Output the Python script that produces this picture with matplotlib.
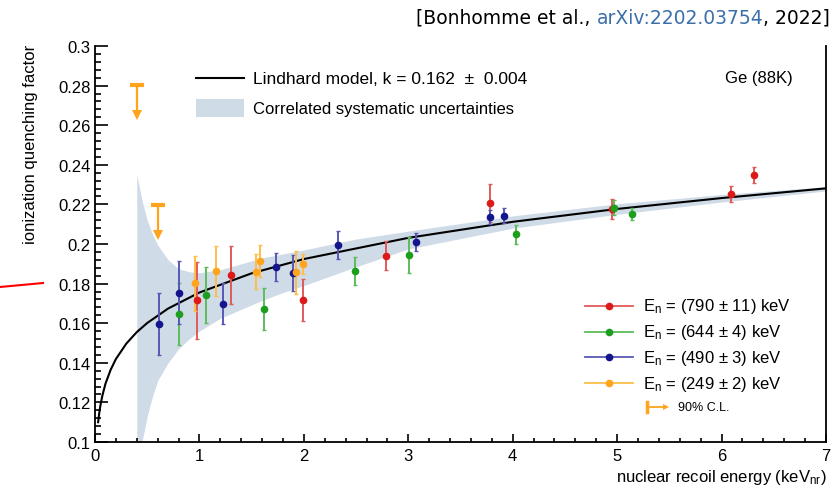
import numpy as np
import matplotlib.pyplot as plt
from matplotlib.ticker import MultipleLocator, FuncFormatter
from matplotlib.patches import Rectangle
from matplotlib.lines import Line2D

plt.rcParams['font.family'] = ['Liberation Sans', 'DejaVu Sans']
plt.rcParams['mathtext.fontset'] = 'custom'
plt.rcParams['mathtext.rm'] = 'Liberation Sans'
plt.rcParams['mathtext.it'] = 'Liberation Sans:italic'

# Lindhard model, k = 0.162
model_e = [0.03, 0.04, 0.05, 0.07, 0.1, 0.15, 0.2, 0.3, 0.4, 0.5, 0.7, 1.0, 1.5, 2.0, 3.0, 4.0, 5.0, 6.0, 7.0]
model_q = [0.1100, 0.1144, 0.1179, 0.1233, 0.1294, 0.1365, 0.1419, 0.1497, 0.1555, 0.1601, 0.1674,
           0.1755, 0.1852, 0.1924, 0.2031, 0.2112, 0.2177, 0.2232, 0.2281]

# correlated systematic band
band_e = [0.4, 0.45, 0.5, 0.55, 0.6, 0.7, 0.8, 0.9, 1.0, 1.2, 1.4, 1.6, 1.8, 2.0, 2.5, 3.0, 4.0, 5.0, 6.0, 7.0]
band_hi = [0.235, 0.222, 0.212, 0.205, 0.1995, 0.192, 0.1875, 0.186, 0.1855, 0.187, 0.190, 0.193, 0.195,
           0.197, 0.2025, 0.2065, 0.2142, 0.2203, 0.2250, 0.2290]
band_lo = [0.07, 0.10, 0.113, 0.123, 0.131, 0.140, 0.147, 0.152, 0.156, 0.1625, 0.167, 0.1715, 0.1755,
           0.179, 0.1885, 0.1975, 0.2080, 0.2150, 0.2212, 0.2268]

# En = 790 keV
red_e = [0.975, 1.30, 1.99, 2.79, 3.78, 4.95, 6.09, 6.31]
red_q = [0.1716, 0.1843, 0.1716, 0.1941, 0.2207, 0.2175, 0.2254, 0.2347]
red_err = [0.0195, 0.0146, 0.0105, 0.0074, 0.0097, 0.0050, 0.0040, 0.0041]
# En = 644 keV
green_e = [0.80, 1.06, 1.62, 2.49, 3.01, 4.03, 4.97, 5.14]
green_q = [0.1646, 0.1744, 0.1672, 0.1862, 0.1946, 0.2049, 0.2184, 0.2150]
green_err = [0.0157, 0.0142, 0.0105, 0.0070, 0.0091, 0.0048, 0.0040, 0.0031]
# En = 490 keV
blue_e = [0.61, 0.805, 1.23, 1.73, 1.895, 2.33, 3.07, 3.78, 3.915]
blue_q = [0.1596, 0.1754, 0.1699, 0.1884, 0.1852, 0.1995, 0.2012, 0.2135, 0.2143]
blue_err = [0.0155, 0.0160, 0.0103, 0.0072, 0.0090, 0.0071, 0.0046, 0.0035, 0.0037]
# En = 249 keV
orange_e = [0.96, 1.16, 1.54, 1.58, 1.92, 1.99]
orange_q = [0.1801, 0.1865, 0.1859, 0.1914, 0.1857, 0.1899]
orange_err = [0.0137, 0.0126, 0.0088, 0.0080, 0.0107, 0.0048]
# 90% C.L. upper limits
ul_e = [0.4, 0.6]
ul_q = [0.2805, 0.2199]

labels = ['E$_{\\rm n}$ = (790 ± 11) keV', 'E$_{\\rm n}$ = (644 ± 4) keV',
          'E$_{\\rm n}$ = (490 ± 3) keV', 'E$_{\\rm n}$ = (249 ± 2) keV']
mcols = ['#dd1a1a', '#1e9e1e', '#14148c', '#ffa41c']
ecols = ['#e25a5a', '#5cbc5c', '#5858b4', '#ffbd4a']

fig = plt.figure(figsize=(8.38, 4.89), dpi=100)
ax = fig.add_axes([95/838, 1-443/489, 731/838, 396/489])

ax.fill_between(band_e, band_lo, band_hi, color='#cfdbe7', lw=0)
ax.plot(model_e, model_q, color='k', lw=1.5, zorder=3)

series = [(red_e, red_q, red_err), (green_e, green_q, green_err),
          (blue_e, blue_q, blue_err), (orange_e, orange_q, orange_err)]
for (e, q, err), mc, ec in zip(series, mcols, ecols):
    ax.errorbar(e, q, yerr=err, fmt='o', ms=4.5, mfc=mc, mec=mc, ecolor=ec,
                elinewidth=1.4, capsize=1.5, capthick=1, zorder=4)

for e, q in zip(ul_e, ul_q):
    ax.plot([e-0.067, e+0.067], [q, q], color='#ffa41c', lw=3, solid_capstyle='butt', zorder=4)
    ax.plot([e, e], [q, q-0.014], color='#ffa41c', lw=1.6, zorder=4)
    ax.plot([e], [q-0.0155], marker='v', ms=7, mew=0, color='#ffa41c', zorder=4)

ax.set_xlim(0, 7)
ax.set_ylim(0.1, 0.3)
ax.xaxis.set_major_locator(MultipleLocator(1))
ax.xaxis.set_minor_locator(MultipleLocator(0.2))
ax.yaxis.set_major_locator(MultipleLocator(0.02))
ax.yaxis.set_minor_locator(MultipleLocator(0.004))
ax.yaxis.set_major_formatter(FuncFormatter(lambda v, p: '%g' % round(v, 3)))
ax.tick_params(axis='x', which='major', direction='in', length=5.5, width=1.2, labelsize=12, pad=4)
ax.tick_params(axis='x', which='minor', direction='in', length=2.8, width=1.2)
ax.tick_params(axis='y', which='major', direction='in', length=9.4, width=1.2, labelsize=12, pad=3)
ax.tick_params(axis='y', which='minor', direction='in', length=4.5, width=1.2)
ax.spines['top'].set_visible(False)
for s in ['left', 'bottom', 'right']:
    ax.spines[s].set_linewidth(1.3)

fig.text(827/838, 1-478/489, 'nuclear recoil energy (keV$_{\\rm nr}$)', ha='right', va='center', fontsize=12)
fig.text(30/838, 1-45/489, 'ionization quenching factor', rotation=90, ha='center', va='top', fontsize=12)

# legend, top left
ax.plot([0.1382, 0.2038], [0.919, 0.919], transform=ax.transAxes, color='k', lw=1.5)
ax.add_patch(Rectangle((0.1382, 0.8215), 0.0656, 0.0447, transform=ax.transAxes, color='#cfdbe7', lw=0))
ax.text(0.2161, 0.919, 'Lindhard model, k = 0.162  ±  0.004', transform=ax.transAxes, va='center', fontsize=12.5)
ax.text(0.2161, 0.843, 'Correlated systematic uncertainties', transform=ax.transAxes, va='center', fontsize=12)
ax.text(0.9549, 0.921, 'Ge (88K)', transform=ax.transAxes, ha='right', va='center', fontsize=12)

# legend, bottom right
for i in range(4):
    ly = (443 - (306.7 + 25.8*i)) / 396
    ax.plot([0.6703, 0.7364], [ly, ly], transform=ax.transAxes, color=ecols[i], lw=1.3)
    ax.plot([0.7036], [ly], 'o', ms=4.5, color=mcols[i], transform=ax.transAxes)
    ax.text(0.7501, ly, labels[i], transform=ax.transAxes, va='center', fontsize=12)
ly = (443 - 408.3) / 396
ax.plot([0.7555, 0.7555], [ly-0.013, ly+0.013], transform=ax.transAxes, color='#ffa41c', lw=2.5)
ax.plot([0.7555, 0.778], [ly, ly], transform=ax.transAxes, color='#ffa41c', lw=1.3)
ax.plot([0.781], [ly], marker='>', ms=5, mew=0, color='#ffa41c', transform=ax.transAxes)
ax.text(0.798, ly, '90% C.L.', transform=ax.transAxes, va='center', fontsize=9)

# citation line, top right
r = fig.canvas.get_renderer()
parts = [('[Bonhomme et al.,', 'black'), ('arXiv:2202.03754', '#3b6fa8'), (', 2022]', 'black')]
cy = 1 - 18/489
ws = []
texts = []
for s, c in parts:
    t = fig.text(0, cy, s, color=c, family='DejaVu Sans', fontsize=13.5, va='center')
    texts.append(t)
    ws.append(t.get_window_extent(r).width)
t1 = fig.text(0, 0, 'a a', family='DejaVu Sans', fontsize=13.5)
t2 = fig.text(0, 0, 'aa', family='DejaVu Sans', fontsize=13.5)
sp = t1.get_window_extent(r).width - t2.get_window_extent(r).width
t1.remove()
t2.remove()
x = 830 - (sum(ws) + sp)
for t, w, gap in zip(texts, ws, [sp, 0, 0]):
    t.set_x(x / 838)
    x += w + gap

fig.add_artist(Line2D([0, 43/838], [1-288/489, 1-284/489], color='red', lw=1.5))

fig.savefig('out.png', dpi=100)
